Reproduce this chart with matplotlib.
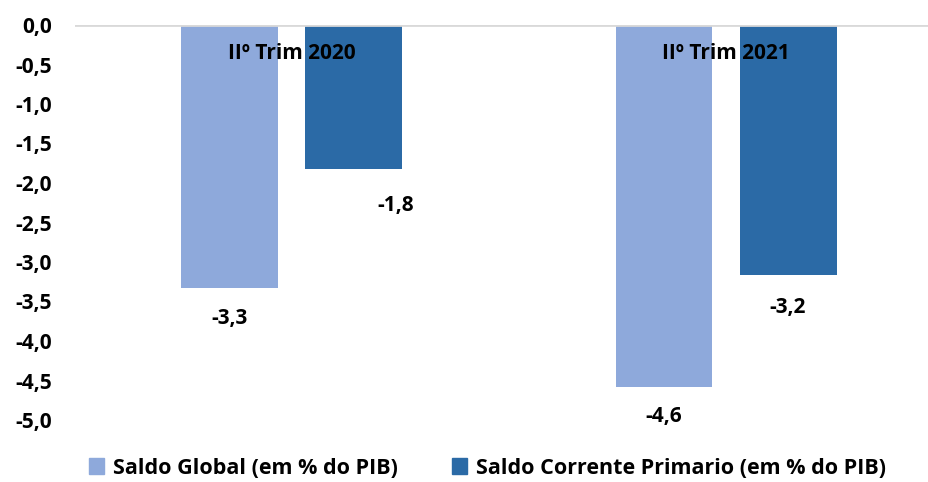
import numpy as np
import matplotlib
matplotlib.use("Agg")
from matplotlib import pyplot as plt
from matplotlib.patches import Patch

plt.rcParams['font.family'] = ['Open Sans', 'DejaVu Sans']
plt.rcParams['font.weight'] = 'bold'

# data
categories = ['IIº Trim 2020', 'IIº Trim 2021']
series_names = ['Saldo Global (em % do PIB)', 'Saldo Corrente Primario (em % do PIB)']
saldo_global = [-3.33, -4.58]
saldo_corrente = [-1.82, -3.17]
colors = ['#8EA9DB', '#2B6AA6']

FS = 15

fig = plt.figure(figsize=(9.29, 4.82), dpi=100)
ax = fig.add_axes([75 / 929, 1 - 420 / 482, 854 / 929, 395 / 482])

x = np.arange(len(categories))
w = 0.223
off = 0.1427
b1 = ax.bar(x - off, saldo_global, w, color=colors[0], zorder=2)
b2 = ax.bar(x + off, saldo_corrente, w, color=colors[1], zorder=2)

ax.set_xlim(-0.498, 1.467)
ax.set_ylim(-5.0, 0.0)
ax.axhline(0, color='#D9D9D9', lw=2, zorder=3)

yt = np.arange(0, -5.01, -0.5)
ax.set_yticks(yt)
ax.set_yticklabels([('%.1f' % v).replace('.', ',').replace('-0,0', '0,0') for v in yt],
                   fontsize=FS, fontweight='bold')
ax.tick_params(axis='y', length=0, pad=16.5)
ax.set_xticks([])
for s in ax.spines.values():
    s.set_visible(False)

# category labels inside at top
for i, c in enumerate(categories):
    ax.text(x[i], -0.36, c, ha='center', va='center', fontsize=FS, fontweight='bold', zorder=4)

# value labels (below bar ends, -1,8 shifted right like the original)
def fmt(v):
    return ('%.1f' % v).replace('.', ',')

lab_pos = [(x[0] - off, saldo_global[0] - 0.39), (x[1] - off, saldo_global[1] - 0.37),
           (x[0] + off + 0.097, saldo_corrente[0] - 0.47), (x[1] + off, saldo_corrente[1] - 0.41)]
vals = [saldo_global[0], saldo_global[1], saldo_corrente[0], saldo_corrente[1]]
for (px, py), v in zip(lab_pos, vals):
    ax.text(px, py, fmt(v), ha='center', va='center', fontsize=FS, fontweight='bold')

handles = [Patch(color=colors[0], label=series_names[0]),
           Patch(color=colors[1], label=series_names[1])]
fig.legend(handles=handles, loc='center', bbox_to_anchor=(0.525, 1 - 468 / 482), ncol=2,
           frameon=False, fontsize=15.5, handlelength=0.7, handleheight=0.7,
           handletextpad=0.43, columnspacing=2.5)

fig.savefig('out.png', dpi=100)
